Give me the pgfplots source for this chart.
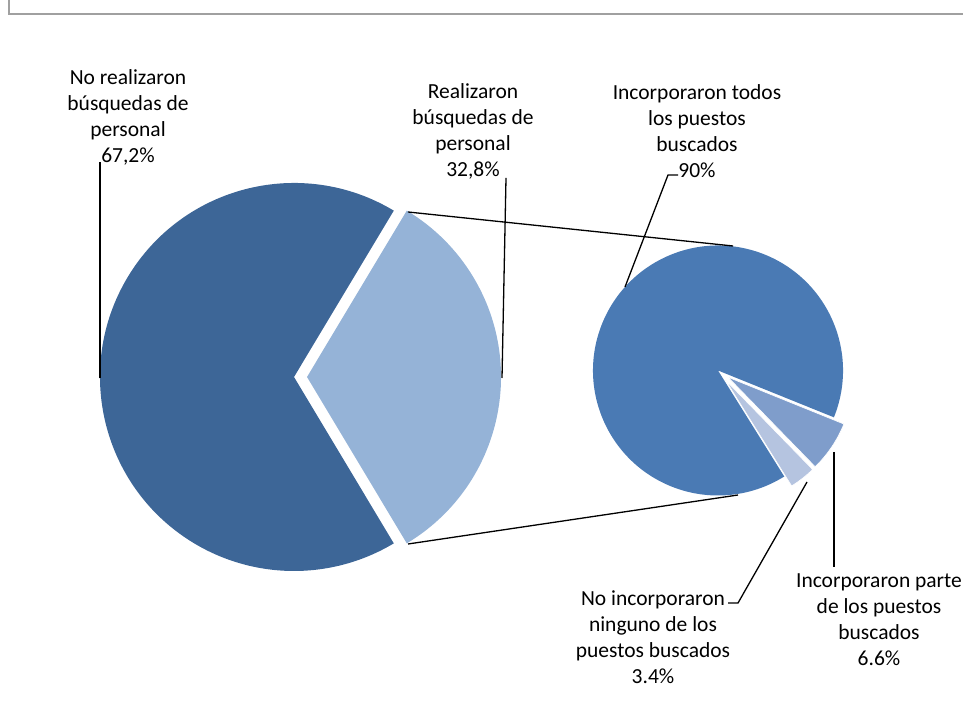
\documentclass[border=0pt]{standalone}
\usepackage{fontspec}
\setmainfont{Carlito}
\usepackage{pgfplots}
\pgfplotsset{compat=1.18}

\definecolor{dark}{HTML}{3D6697}
\definecolor{light}{HTML}{95B3D7}
\definecolor{mainB}{HTML}{4A7AB4}
\definecolor{midB}{HTML}{7F9DCB}
\definecolor{paleB}{HTML}{B5C4E0}
\definecolor{frame}{HTML}{A0A0A0}

% valores (%)
\def\vNo{67.2}   % no realizaron busquedas
\def\vSi{32.8}   % realizaron busquedas
\def\vTodos{90}
\def\vParte{6.6}
\def\vNinguno{3.4}

\tikzset{lbl/.style={font=\fontsize{21.5bp}{26bp}\selectfont, align=center, inner sep=0pt}}

\begin{document}
\begin{tikzpicture}
\useasboundingbox (0,0) rectangle (963bp,714bp);
\pgfmathsetmacro{\hSi}{\vSi*1.8}
\pgfmathsetmacro{\eSi}{360-\hSi}
\pgfmathsetmacro{\aParte}{-22-\vParte*3.6}
\pgfmathsetmacro{\aNinguno}{\aParte-\vNinguno*3.6}
\pgfmathsetmacro{\aTodos}{-22+\vTodos*3.6}
\pgfmathsetmacro{\bParte}{(-22+\aParte)/2}
\pgfmathsetmacro{\bNinguno}{(\aParte+\aNinguno)/2}
\begin{axis}[
    width=963bp, height=714bp, scale only axis,
    xmin=0, xmax=963, ymin=0, ymax=714,
    hide axis, clip=false,
]
% marco
\draw[frame, line width=2bp] (axis cs:8.5,714) -- (axis cs:8.5,700) -- (axis cs:963,700);

% pie principal
\fill[dark] (axis cs:294,337) -- ++(\hSi:194bp) arc[start angle=\hSi, end angle=\eSi, radius=194bp] -- cycle;
\fill[light] (axis cs:307,337) -- ++(-\hSi:194bp) arc[start angle=-\hSi, end angle=\hSi, radius=194bp] -- cycle;

% pie secundario
\fill[mainB] (axis cs:718,343.5) -- ++(-22:125bp) arc[start angle=-22, end angle=\aTodos, radius=125bp] -- cycle;
\fill[midB, draw=white, line width=0.6bp] (axis cs:718,343.5) ++(\bParte:12bp) -- ++(-22:125bp) arc[start angle=-22, end angle=\aParte, radius=125bp] -- cycle;
\fill[paleB, draw=white, line width=0.6bp] (axis cs:718,343.5) ++(\bNinguno:12bp) -- ++(\aParte:125bp) arc[start angle=\aParte, end angle=\aNinguno, radius=125bp] -- cycle;

% conectores
\draw[black, line width=1.3bp] (axis cs:408,502) -- (axis cs:733,468);
\draw[black, line width=1.3bp] (axis cs:408,170) -- (axis cs:738,219);

% lineas guia
\draw[black, line width=1.3bp] (axis cs:100,552) -- (axis cs:100,336);
\draw[black, line width=1.3bp] (axis cs:506,536) -- (axis cs:502,336);
\draw[black, line width=1.3bp] (axis cs:678,539) -- (axis cs:668,539) -- (axis cs:625,427);
\draw[black, line width=1.3bp] (axis cs:728,111) -- (axis cs:738,111) -- (axis cs:807,232);
\draw[black, line width=1.3bp] (axis cs:834,262) -- (axis cs:834,147);

% etiquetas
\node[lbl] at (axis cs:128,596.5) {No realizaron\\búsquedas de\\personal\\67,2\%};
\node[lbl] at (axis cs:473,582.5) {Realizaron\\búsquedas de\\personal\\32,8\%};
\node[lbl] at (axis cs:697,582.5) {Incorporaron todos\\los puestos\\buscados\\90\%};
\node[lbl] at (axis cs:653,76.5) {No incorporaron\\ninguno de los\\puestos buscados\\3.4\%};
\node[lbl] at (axis cs:879,94) {Incorporaron parte\\de los puestos\\buscados\\6.6\%};
\end{axis}
\end{tikzpicture}
\end{document}
